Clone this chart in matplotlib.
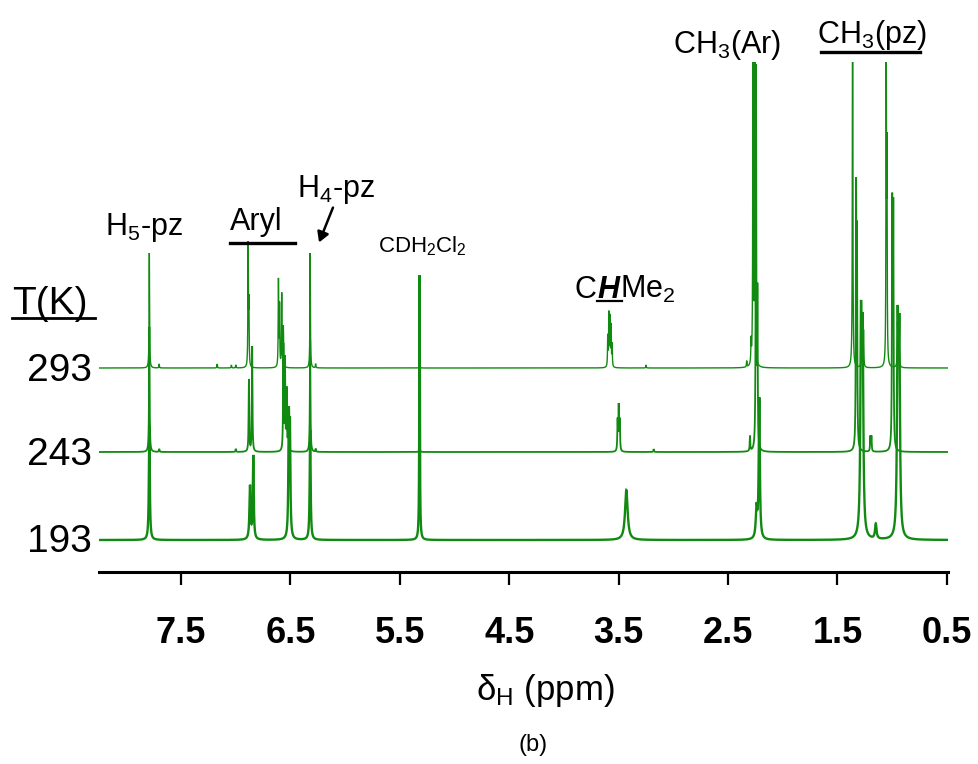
import numpy as np
import matplotlib
matplotlib.use('Agg')
import matplotlib.pyplot as plt
from matplotlib.lines import Line2D
from matplotlib.patches import FancyArrowPatch

plt.rcParams['font.family'] = ['Liberation Sans', 'DejaVu Sans']
plt.rcParams['mathtext.fontset'] = 'custom'
plt.rcParams['mathtext.rm'] = 'Liberation Sans'
plt.rcParams['mathtext.it'] = 'Liberation Sans:italic'
plt.rcParams['mathtext.bf'] = 'Liberation Sans:bold'

# ---------------- data ----------------
temperatures = ['293', '243', '193']
tick_values = [7.5, 6.5, 5.5, 4.5, 3.5, 2.5, 1.5, 0.5]
tick_labels = ['7.5', '6.5', '5.5', '4.5', '3.5', '2.5', '1.5', '0.5']

# 293 K peaks: position (ppm), height (a.u.), half width (ppm)
ppm_293 = [7.79, 7.70, 7.17, 7.04, 7.00, 6.887, 6.880, 6.610, 6.600, 6.580, 6.565,
           6.320, 6.27, 5.320, 3.600, 3.590, 3.580, 3.570, 3.560, 3.25, 2.330, 2.290,
           2.272, 2.255, 1.362, 1.280, 1.272, 1.262, 1.055, 1.048, 0.952, 0.945, 0.938]
h_293 = [115, 4, 4, 3, 3, 120, 60, 86, 60, 73, 40,
         115, 4, 6, 30, 52, 48, 40, 22, 3, 6, 22,
         420, 420, 420, 38, 42, 35, 310, 200, 40, 45, 38]
w_293 = [0.0025] * len(ppm_293)

# 243 K peaks
ppm_243 = [7.79, 7.70, 7.00, 6.880, 6.850, 6.565, 6.550, 6.535, 6.520, 6.320, 6.27,
           5.320, 3.510, 3.500, 3.490, 3.18, 2.300, 2.245, 2.232, 1.330, 1.322,
           1.200, 1.190, 1.000, 0.990]
h_243 = [125, 3, 3, 72, 105, 105, 90, 60, 30, 112, 3,
         8, 30, 44, 30, 3, 15, 380, 150, 250, 200,
         15, 15, 240, 235]
w_243 = [0.003] * len(ppm_243)

# 193 K peaks
ppm_193 = [7.79, 6.870, 6.840, 6.515, 6.505, 6.320, 5.320, 3.430, 2.240, 2.215,
           1.285, 1.270, 1.150, 0.950, 0.935]
h_193 = [114, 53, 83, 113, 100, 110, 265, 50, 30, 140,
         205, 190, 15, 200, 190]
w_193 = [0.005, 0.006, 0.005, 0.005, 0.005, 0.005, 0.003, 0.014, 0.008, 0.006,
         0.007, 0.007, 0.008, 0.007, 0.007]

peak_sets = [(ppm_293, h_293, w_293), (ppm_243, h_243, w_243), (ppm_193, h_193, w_193)]

# ---------------- style ----------------
W, H = 979, 764
offsets = [204, 120, 32]
line_widths = [1.0, 1.3, 1.7]
green = '#118a11'


def fx(x):
    return x / W


def fy(y):
    return 1 - y / H


fig = plt.figure(figsize=(W / 100, H / 100), dpi=100)
ax = fig.add_axes([fx(99), fy(572), fx(948) - fx(99), fy(62) - fy(572)])

x = np.linspace(8.25, 0.49, 40000)
for (pp, hh, ww), off, lw in zip(peak_sets[::-1], offsets[::-1], line_widths[::-1]):
    y = np.zeros_like(x)
    for p, h, w in zip(pp, hh, ww):
        y += h / (1 + ((x - p) / w) ** 2)
    ax.plot(x, y + off, color=green, lw=lw, solid_joinstyle='miter')

ax.set_xlim(8.25, 0.49)
ax.set_ylim(0, 510)
for s in ['left', 'right', 'top']:
    ax.spines[s].set_visible(False)
ax.spines['bottom'].set_linewidth(2.2)
ax.set_yticks([])
ax.set_xticks(tick_values)
ax.set_xticklabels(tick_labels, fontweight='bold', fontsize=26)
ax.tick_params(axis='x', direction='out', length=9.5, width=1.6, pad=22)

# ---------------- texts ----------------
big = 22
fig.text(fx(12), fy(314), 'T(K)', fontsize=28, va='baseline', ha='left')
fig.add_artist(Line2D([fx(12), fx(95)], [fy(318), fy(318)], color='black', lw=2.0))
for t, yb in zip(temperatures, [381, 465, 552]):
    fig.text(fx(92), fy(yb), t, fontsize=28, va='baseline', ha='right')

fig.text(fx(105), fy(235), r'H$_5$-pz', fontsize=big, va='baseline')
fig.text(fx(230), fy(230), 'Aryl', fontsize=big, va='baseline')
fig.add_artist(Line2D([fx(230), fx(295)], [fy(243), fy(243)], color='black', lw=2.4))
fig.text(fx(297), fy(197), r'H$_4$-pz', fontsize=big, va='baseline')
arrow = FancyArrowPatch((fx(334), fy(205)), (fx(318), fy(245)), transform=fig.transFigure,
                        arrowstyle='-|>,head_length=6,head_width=3.5', color='black',
                        lw=1.8, mutation_scale=1)
fig.add_artist(arrow)
fig.text(fx(378), fy(252), r'CDH$_2$Cl$_2$', fontsize=16, va='baseline')

fig.text(fx(575), fy(298), 'C', fontsize=big, va='baseline')
fig.text(fx(597), fy(298), 'H', fontsize=big, va='baseline', fontweight='bold', style='italic')
fig.add_artist(Line2D([fx(597), fx(622)], [fy(301), fy(301)], color='black', lw=1.6))
fig.text(fx(620), fy(298), r'Me$_2$', fontsize=big, va='baseline')

fig.text(fx(673), fy(53), r'CH$_3$(Ar)', fontsize=big, va='baseline')
fig.text(fx(817), fy(43), r'CH$_3$(pz)', fontsize=big, va='baseline')
fig.add_artist(Line2D([fx(821), fx(920)], [fy(52), fy(52)], color='black', lw=2.4))

fig.text(fx(545), fy(700), 'δ$_{\\mathrm{H}}$ (ppm)', fontsize=25, va='baseline', ha='center')
fig.text(fx(533), fy(751), '(b)', fontsize=17, va='baseline', ha='center')

fig.savefig('out.png', dpi=100, facecolor='white')
